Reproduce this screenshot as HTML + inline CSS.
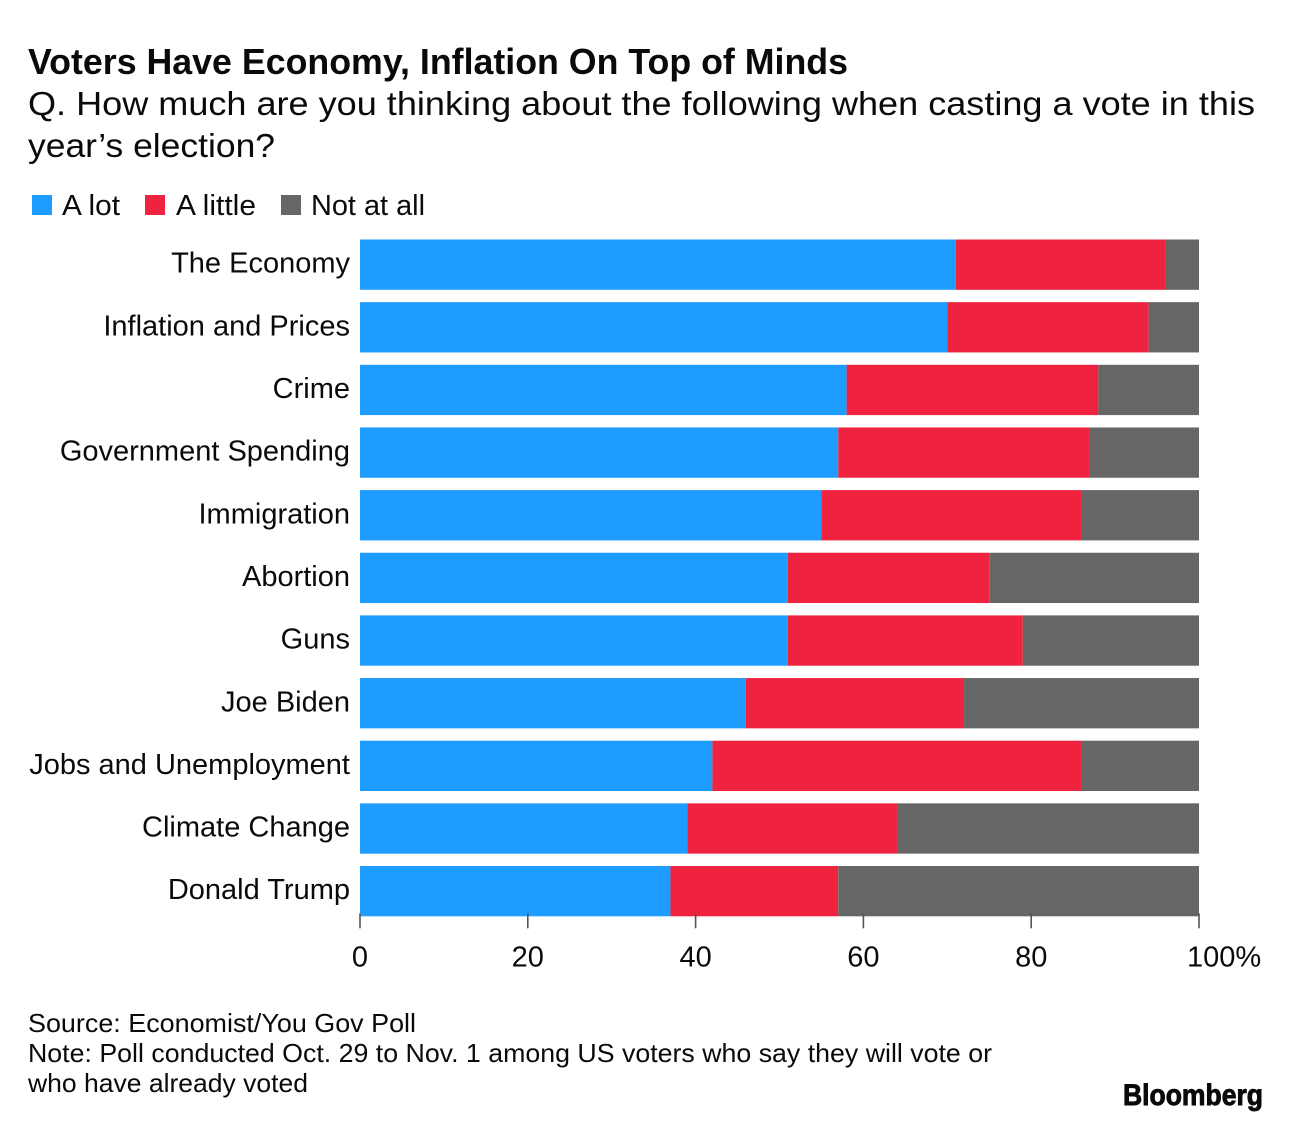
<!DOCTYPE html>
<html lang="en">
<head>
<meta charset="utf-8">
<title>Voters Have Economy, Inflation On Top of Minds</title>
<style>
html,body{margin:0;padding:0;background:#fff;width:1291px;height:1122px;overflow:hidden}
svg{display:block}
text{font-family:"Liberation Sans",sans-serif;fill:#0a0a0a}
.title{font-size:36.5px;font-weight:700}
.sub{font-size:33px}
.leg{font-size:29px}
.cat{font-size:29px}
.tick{font-size:29px}
.foot{font-size:26px}
.logo{font-size:30px;font-weight:700}
</style>
</head>
<body>
<svg id="chart" width="1291" height="1122" viewBox="0 0 1291 1122" xmlns="http://www.w3.org/2000/svg">
  <rect x="0" y="0" width="1291" height="1122" fill="#ffffff"/>
  <text class="title" x="28" y="74" textLength="820" lengthAdjust="spacingAndGlyphs">Voters Have Economy, Inflation On Top of Minds</text>
  <text class="sub" x="28" y="115" textLength="1227" lengthAdjust="spacingAndGlyphs">Q. How much are you thinking about the following when casting a vote in this</text>
  <text class="sub" x="28" y="157" textLength="247" lengthAdjust="spacingAndGlyphs">year’s election?</text>

  <rect x="32" y="195" width="20" height="20" fill="#1e9cff"/>
  <text class="leg" x="62" y="215" textLength="58" lengthAdjust="spacingAndGlyphs">A lot</text>
  <rect x="145" y="195" width="20" height="20" fill="#ef233f"/>
  <text class="leg" x="176" y="215" textLength="80" lengthAdjust="spacingAndGlyphs">A little</text>
  <rect x="281" y="195" width="20" height="20" fill="#666666"/>
  <text class="leg" x="311" y="215" textLength="114" lengthAdjust="spacingAndGlyphs">Not at all</text>

  <g id="bars"></g>
  <g id="cats"></g>
  <g id="axis"></g>

  <text class="foot" x="28" y="1032" textLength="388" lengthAdjust="spacingAndGlyphs">Source: Economist/You Gov Poll</text>
  <text class="foot" x="28" y="1062" textLength="964" lengthAdjust="spacingAndGlyphs">Note: Poll conducted Oct. 29 to Nov. 1 among US voters who say they will vote or</text>
  <text class="foot" x="28" y="1092" textLength="280" lengthAdjust="spacingAndGlyphs">who have already voted</text>
  <text class="logo" x="1123" y="1105" textLength="140" lengthAdjust="spacingAndGlyphs" stroke="#0a0a0a" stroke-width="0.9">Bloomberg</text>
</svg>
<script>
const categories = ["The Economy","Inflation and Prices","Crime","Government Spending","Immigration","Abortion","Guns","Joe Biden","Jobs and Unemployment","Climate Change","Donald Trump"];
const aLot = [71,70,58,57,55,51,51,46,42,39,37];
const aLittle = [25,24,30,30,31,24,28,26,44,25,20];
const notAtAll = [4,6,12,13,14,25,21,28,14,36,43];
const tickValues = [0,20,40,60,80,100];

const SVGNS = "http://www.w3.org/2000/svg";
const plotLeft = 360, plotRight = 1199, plotTop = 239.5, rowStep = 62.65, barHeight = 50.3;
const xScale = function (v) { return plotLeft + (plotRight - plotLeft) * v / 100; };
const yScale = function (i) { return plotTop + rowStep * i; };
const slug = function (s) { return s.toLowerCase().replace(/[^a-z0-9]+/g, "-"); };

const barsG = document.getElementById("bars");
const catsG = document.getElementById("cats");
const axisG = document.getElementById("axis");

const seriesList = [
  { key: "a-lot", values: aLot, color: "#1e9cff" },
  { key: "a-little", values: aLittle, color: "#ef233f" },
  { key: "not-at-all", values: notAtAll, color: "#666666" }
];

categories.forEach(function (cat, i) {
  let cumulative = 0;
  seriesList.forEach(function (s) {
    const v = s.values[i];
    const r = document.createElementNS(SVGNS, "rect");
    r.setAttribute("x", xScale(cumulative));
    r.setAttribute("y", yScale(i));
    r.setAttribute("width", xScale(cumulative + v) - xScale(cumulative));
    r.setAttribute("height", barHeight);
    r.setAttribute("fill", s.color);
    
    
    barsG.appendChild(r);
    cumulative += v;
  });
  const t = document.createElementNS(SVGNS, "text");
  t.setAttribute("class", "cat");
  t.setAttribute("x", plotLeft - 10);
  t.setAttribute("y", yScale(i) + 33.2);
  t.setAttribute("text-anchor", "end");
  t.textContent = cat;
  
  
  catsG.appendChild(t);
});

const axisY = yScale(categories.length - 1) + barHeight;
tickValues.forEach(function (v, i) {
  const last = i === tickValues.length - 1;
  const l = document.createElementNS(SVGNS, "line");
  l.setAttribute("x1", xScale(v));
  l.setAttribute("x2", xScale(v));
  l.setAttribute("y1", axisY - 3);
  l.setAttribute("y2", axisY + 12);
  l.setAttribute("stroke", "#555555");
  l.setAttribute("stroke-width", "1.6");
  
  
  axisG.appendChild(l);
  const t = document.createElementNS(SVGNS, "text");
  t.setAttribute("class", "tick");
  t.setAttribute("y", 966.5);
  if (last) {
    t.setAttribute("x", xScale(v) - 12);
    t.setAttribute("text-anchor", "start");
    t.textContent = v + "%";
  } else {
    t.setAttribute("x", xScale(v));
    t.setAttribute("text-anchor", "middle");
    t.textContent = String(v);
  }
  
  
  axisG.appendChild(t);
});
</script>
</body>
</html>
